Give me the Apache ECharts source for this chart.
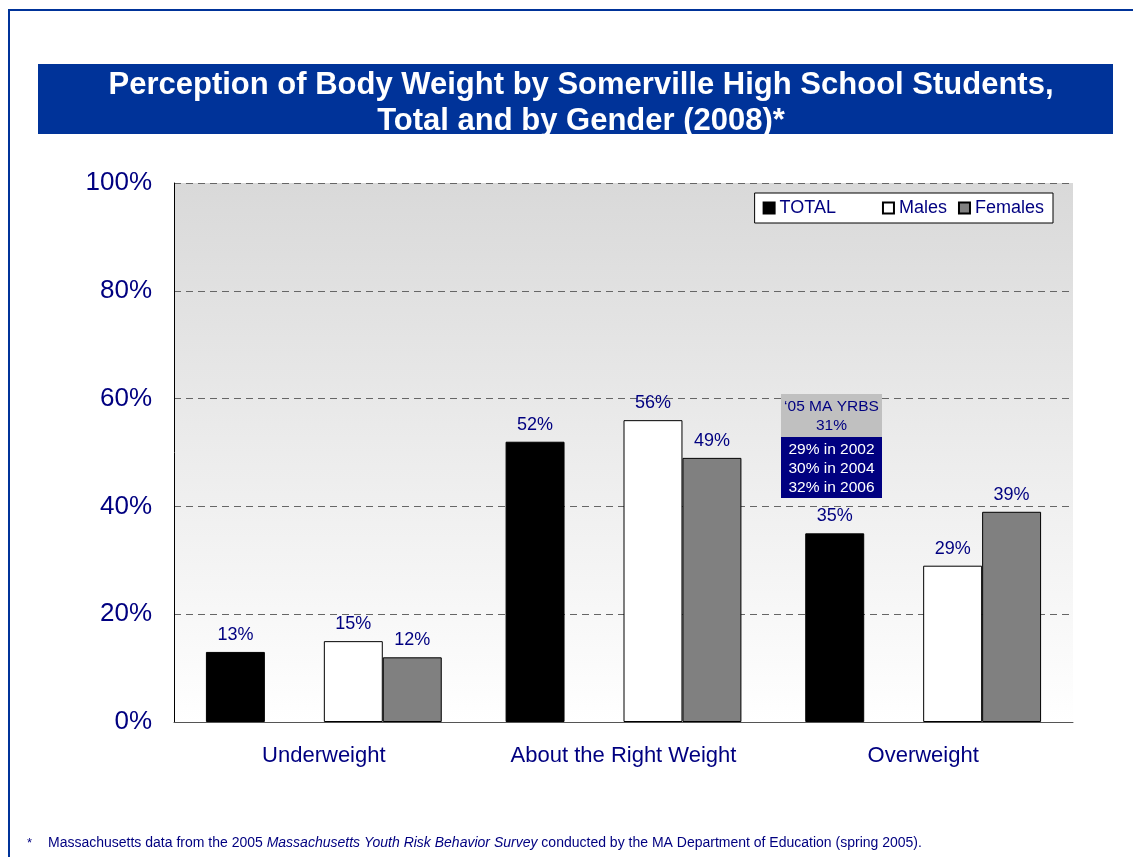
<!DOCTYPE html>
<html>
<head>
<meta charset="utf-8">
<script src="https://cdn.jsdelivr.net/npm/echarts@6/dist/echarts.min.js"></script>
<style>
html,body{margin:0;padding:0;background:#fff;}
#main{width:1133px;height:857px;}
</style>
</head>
<body>
<div id="main"></div>
<script>
var categories = ['Underweight', 'About the Right Weight', 'Overweight'];
var totalValues = [13, 52, 35];
var maleValues = [15, 56, 29];
var femaleValues = [12, 49, 39];
var yTicks = [0, 20, 40, 60, 80, 100];

var navy = '#000080';
var fontName = '"Liberation Sans", Arial, sans-serif';

var mychart = echarts.init(document.getElementById('main'));

function barLabel(){
	return {
		show: true,
		position: 'top',
		distance: 8,
		color: navy,
		fontSize: 18,
		fontFamily: fontName,
		formatter: '{c}%'
	};
}

var option = {
	animation: false,
	backgroundColor: '#fff',
	title: {
		text: 'Perception of Body Weight by Somerville High School Students,\nTotal and by Gender (2008)*',
		left: 576,
		top: 62,
		textAlign: 'center',
		textStyle: {
			color: '#fff',
			fontSize: 31,
			fontWeight: 'bold',
			fontFamily: fontName,
			lineHeight: 36
		}
	},
	legend: {
		right: 80,
		top: 193,
		orient: 'horizontal',
		backgroundColor: '#fff',
		borderColor: '#000',
		borderWidth: 1,
		borderRadius: 0,
		padding: [6, 9, 6, 8],
		itemGap: 11,
		itemWidth: 11,
		itemHeight: 11,
		icon: 'rect',
		data: ['TOTAL', 'Males', 'Females'],
		formatter: function(name){
			return name == 'TOTAL' ? 'TOTAL       ' : name;
		},
		textStyle: {
			color: navy,
			fontSize: 18,
			fontFamily: fontName
		}
	},
	grid: {
		left: 174,
		right: 60,
		top: 183,
		bottom: 135,
		show: true,
		borderWidth: 0,
		backgroundColor: {
			type: 'linear', x: 0, y: 0, x2: 0, y2: 1,
			colorStops: [
				{offset: 0, color: '#d9d9d9'},
				{offset: 1, color: '#ffffff'}
			]
		}
	},
	xAxis: {
		type: 'category',
		data: categories,
		axisTick: {show: false},
		axisLine: {lineStyle: {color: '#555', width: 1}},
		axisLabel: {
			color: navy,
			fontSize: 22,
			fontFamily: fontName,
			margin: 23
		}
	},
	yAxis: {
		type: 'value',
		min: yTicks[0],
		max: yTicks[yTicks.length - 1],
		interval: 20,
		axisLine: {show: true, lineStyle: {color: '#000', width: 1}},
		axisTick: {show: false},
		axisLabel: {
			color: navy,
			fontSize: 26,
			fontFamily: fontName,
			margin: 22,
			padding: [8, 0, 0, 0],
			formatter: '{value}%'
		},
		splitLine: {lineStyle: {color: '#666', type: [7, 5], width: 1}}
	},
	series: [
		{
			name: 'TOTAL',
			type: 'bar',
			data: totalValues,
			barGap: 0,
			barCategoryGap: '21.3%',
			itemStyle: {color: '#000', borderColor: '#000', borderWidth: 1},
			label: barLabel()
		},
		{
			// empty slot between TOTAL and the gender bars
			name: 'gap',
			type: 'bar',
			data: ['-', '-', '-'],
			itemStyle: {color: 'transparent'}
		},
		{
			name: 'Males',
			type: 'bar',
			data: maleValues,
			itemStyle: {color: '#fff', borderColor: '#000', borderWidth: 1},
			label: barLabel()
		},
		{
			name: 'Females',
			type: 'bar',
			data: femaleValues,
			itemStyle: {color: '#808080', borderColor: '#000', borderWidth: 1},
			label: barLabel()
		}
	],
	graphic: [
		// outer frame
		{type: 'rect', z: -10, shape: {x: 9, y: 10, width: 1200, height: 900}, style: {fill: 'none', stroke: '#003399', lineWidth: 2}},
		// title banner
		{type: 'rect', z: -5, shape: {x: 38, y: 64, width: 1075, height: 70}, style: {fill: '#003399'}},
		// YRBS annotation
		{type: 'rect', z: 50, shape: {x: 781, y: 394, width: 101, height: 43}, style: {fill: '#c0c0c0'}},
		{type: 'rect', z: 50, shape: {x: 781, y: 437, width: 101, height: 61}, style: {fill: navy}},
		{type: 'text', z: 51, x: 831.5, y: 397, style: {text: '\u201805 MA YRBS\n31%', fill: navy, font: '15.5px ' + fontName, textAlign: 'center', lineHeight: 19}},
		{type: 'text', z: 51, x: 831.5, y: 440, style: {text: '29% in 2002\n30% in 2004\n32% in 2006', fill: '#fff', font: '15.5px ' + fontName, textAlign: 'center', lineHeight: 19}},
		// footnote
		{type: 'text', x: 27, y: 837, style: {text: '*', fill: navy, font: '13px ' + fontName}},
		{
			type: 'text', x: 48, y: 836,
			style: {
				text: '{n|Massachusetts data from the 2005 }{i|Massachusetts Youth Risk Behavior Survey}{n| conducted by the MA Department of Education (spring 2005).}',
				rich: {
					n: {fill: navy, fontSize: 14, fontFamily: fontName},
					i: {fill: navy, fontSize: 14, fontStyle: 'italic', fontFamily: fontName}
				}
			}
		}
	]
};
mychart.setOption(option);
</script>
</body>
</html>
